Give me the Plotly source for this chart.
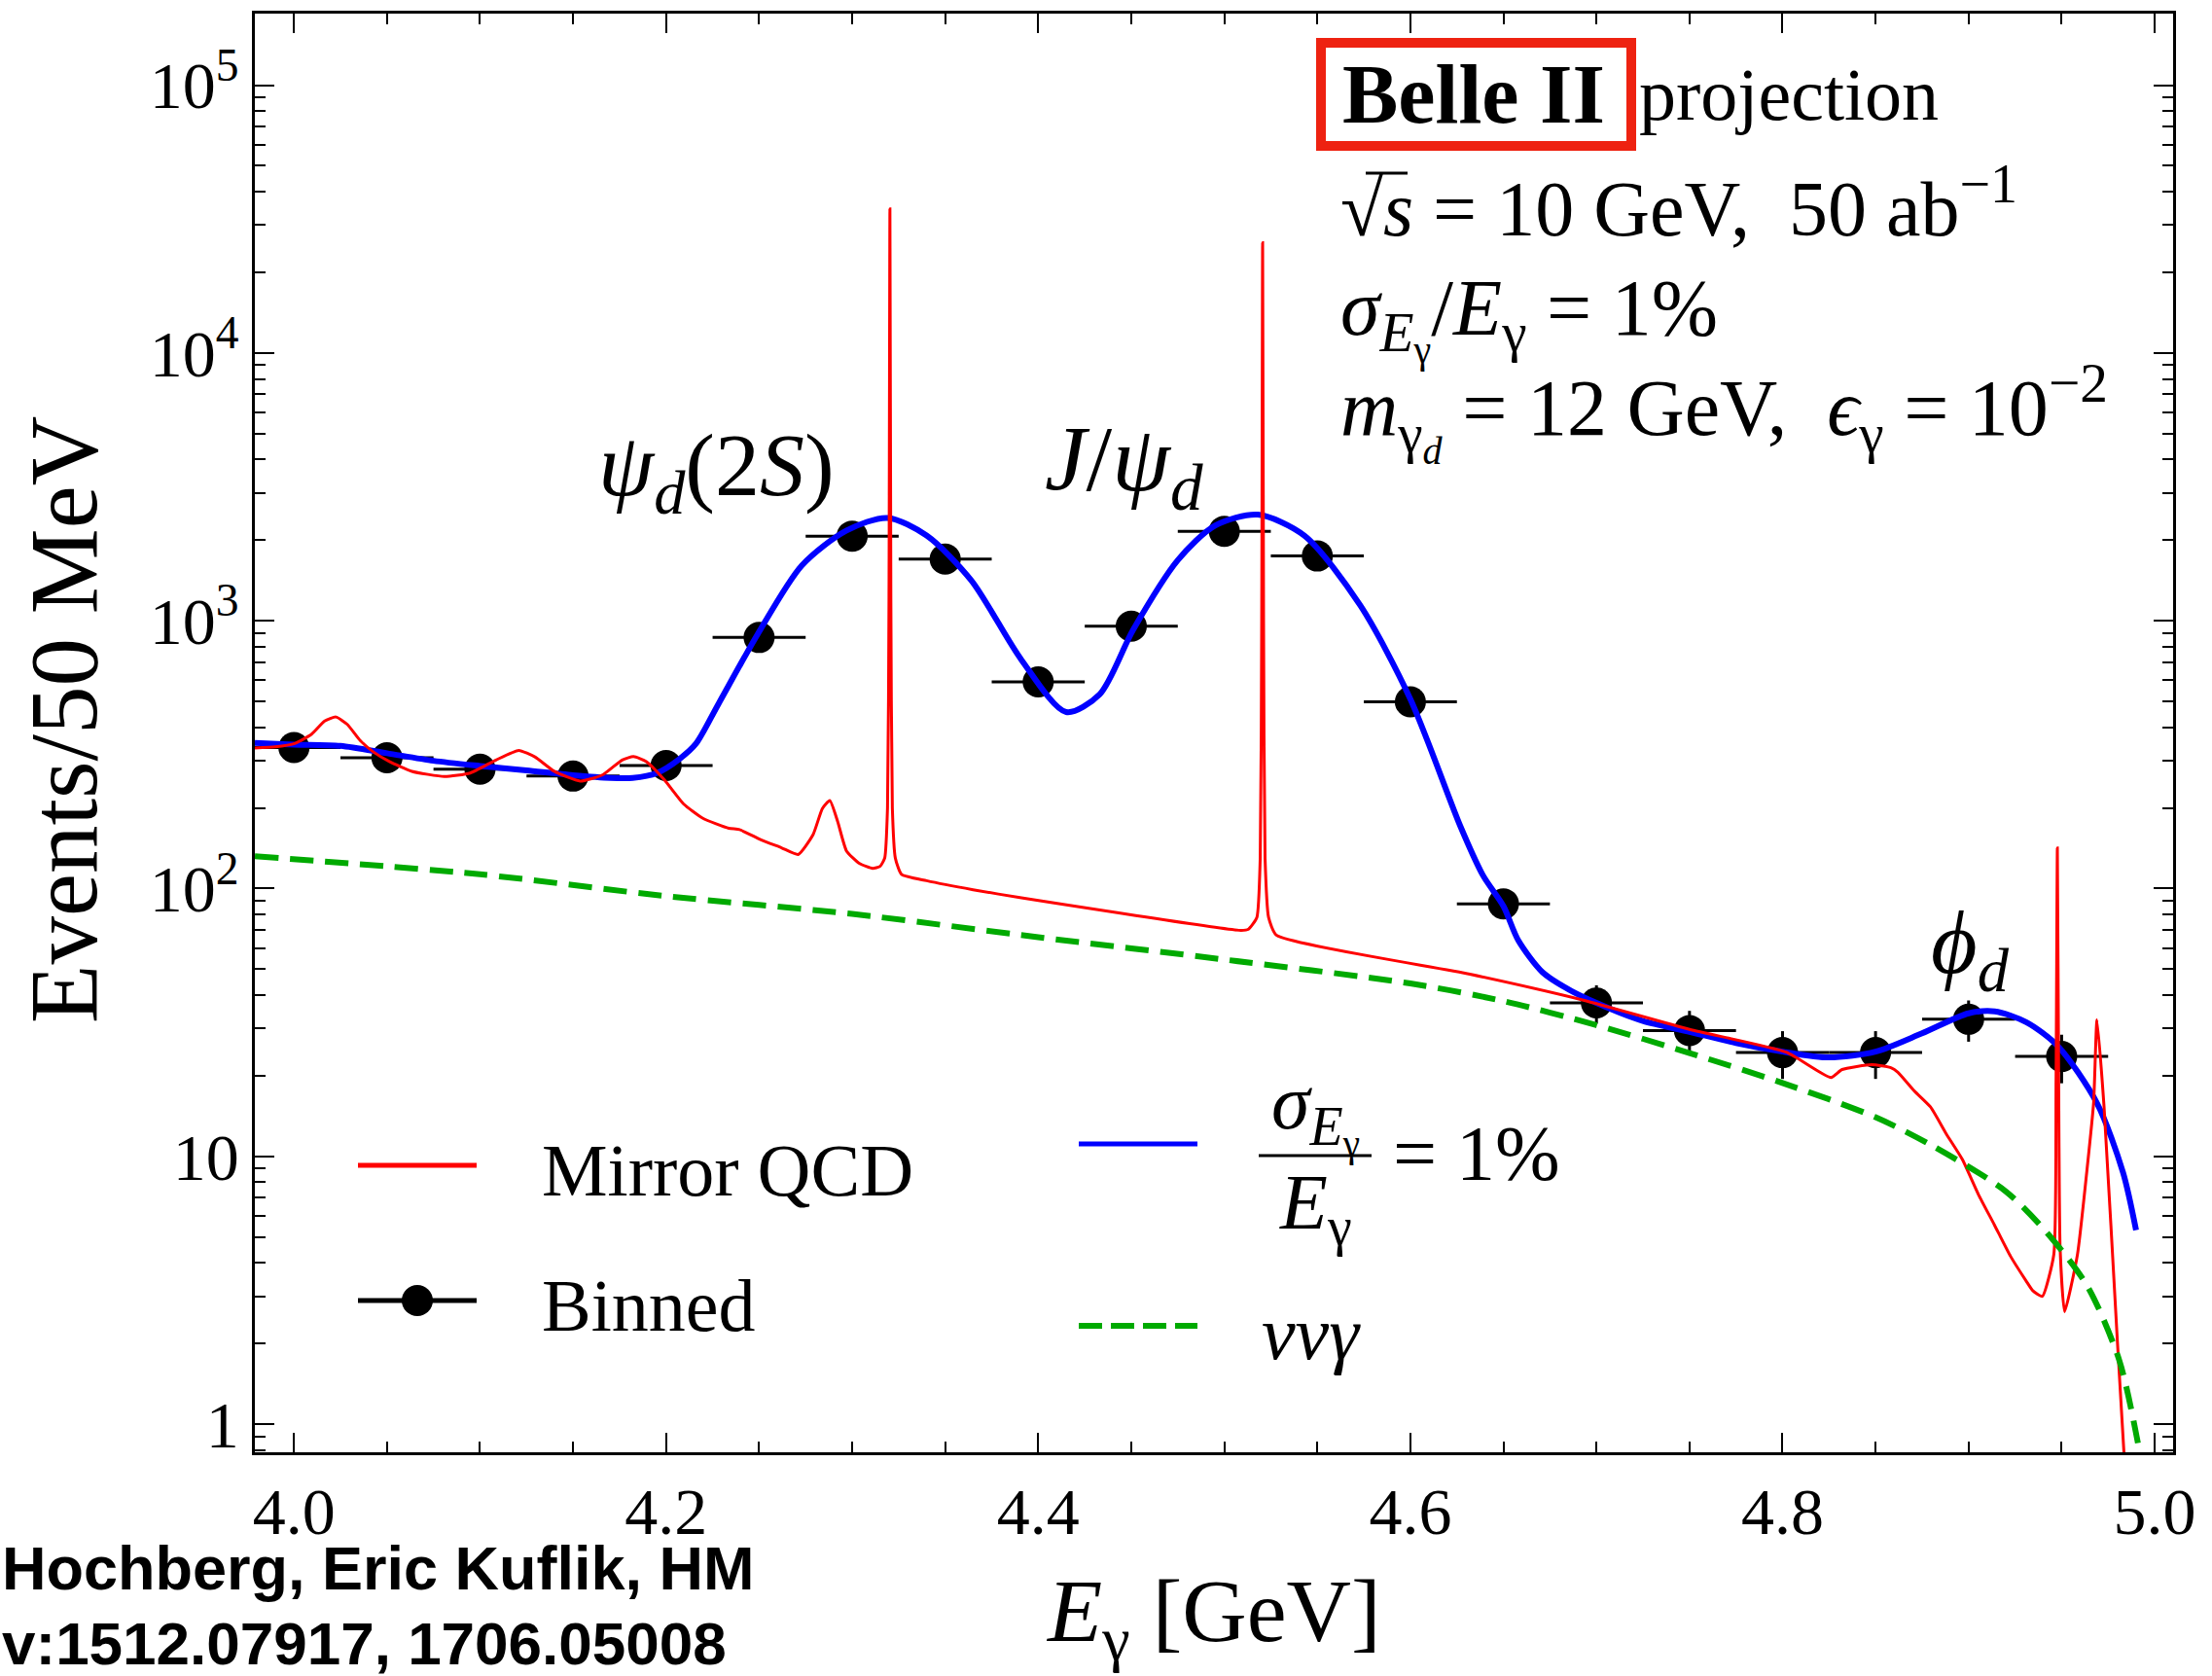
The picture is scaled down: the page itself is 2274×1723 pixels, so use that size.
import math
import plotly.graph_objects as go

# ---------------- data ----------------
bin_E = [4.00, 4.05, 4.10, 4.15, 4.20, 4.25, 4.30, 4.35, 4.40, 4.45,
         4.50, 4.55, 4.60, 4.65, 4.70, 4.75, 4.80, 4.85, 4.90, 4.95]
bin_N = [336, 308, 279, 263, 288, 866, 2070, 1700, 591, 954,
         2158, 1745, 498, 87.7, 37.4, 29.5, 24.4, 24.4, 32.5, 23.6]
bin_halfwidth = [0.025] * len(bin_E)

smeared_E = [3.979, 4.000, 4.025, 4.050, 4.075, 4.100, 4.125, 4.150, 4.170, 4.182,
             4.195, 4.207, 4.216, 4.228, 4.249, 4.273, 4.297, 4.319, 4.340, 4.364,
             4.391, 4.415, 4.433, 4.451, 4.475, 4.495, 4.518, 4.543, 4.573, 4.600,
             4.627, 4.639, 4.650, 4.658, 4.671, 4.685, 4.700, 4.725, 4.749, 4.775,
             4.800, 4.825, 4.850, 4.875, 4.900, 4.914, 4.931, 4.948, 4.969, 4.983,
             4.990]
smeared_val = [350, 345, 341, 320, 300, 287, 276, 265, 259, 259,
               270, 304, 347, 487, 885, 1610, 2173, 2420, 2080, 1415,
               714, 456, 531, 925, 1683, 2265, 2490, 2080, 1143, 510,
               170, 112, 86, 64, 48.7, 42, 37.4, 32, 29.3, 26.5,
               24.6, 23.4, 24.6, 28.8, 34.2, 34.8, 31.7, 25.8, 15.8, 8.7,
               5.3]

qcd_E = [3.979, 3.990, 4.000, 4.0095, 4.0165, 4.0226, 4.0287, 4.0356, 4.0426, 4.0513,
         4.0634, 4.0808, 4.0947, 4.1086, 4.1208, 4.1295, 4.1399, 4.1538, 4.1660, 4.1764,
         4.1825, 4.1894, 4.1990, 4.2094, 4.2198, 4.2337, 4.2395, 4.2510, 4.2620, 4.2710,
         4.2790, 4.2840, 4.2880, 4.2922, 4.2970, 4.3040, 4.3110, 4.3150, 4.3175, 4.3190,
         4.3198, 4.3203, 4.3208, 4.3216, 4.3232, 4.3265, 4.3400, 4.3650, 4.3910, 4.5090,
         4.5130, 4.5175, 4.5193, 4.5201, 4.5206, 4.5211, 4.5219, 4.5238, 4.5280, 4.6320,
         4.6930, 4.7500, 4.8020, 4.8260, 4.8320, 4.8480, 4.8585, 4.8620, 4.8710, 4.8795,
         4.8881, 4.8966, 4.9053, 4.9138, 4.9225, 4.9310, 4.9345, 4.9396, 4.9458, 4.9470,
         4.9477, 4.9484, 4.9492, 4.9516, 4.9585, 4.9637, 4.9672, 4.9690, 4.9728, 4.9800,
         4.9837]
qcd_val = [335, 338, 347, 377, 422, 437, 410, 357, 324, 298,
           274, 262, 270, 302, 328, 310, 274, 252, 266, 302,
           311, 298, 255, 207, 183, 168, 166, 152, 142, 134,
           159, 199, 213, 178, 138, 124, 119, 121, 130, 200,
           1200, 34500, 1200, 200, 130, 113, 107, 99, 92.3, 69.8,
           70.5, 78, 130, 1000, 25800, 1000, 130, 78, 67, 47.9,
           38.3, 29.8, 24.5, 19.7, 21.1, 22.0, 21.4, 20.6, 17.5, 15.3,
           12.1, 9.75, 7.2, 5.56, 4.24, 3.42, 3.15, 3.0, 4.3, 19.1,
           141.6, 19, 4.5, 2.63, 4.3, 9.0, 15.9, 32.3, 15.3, 2.02,
           0.74]

nng_E = [3.979, 4.100, 4.200, 4.300, 4.400, 4.500, 4.600, 4.650, 4.700, 4.750,
         4.800, 4.850, 4.880, 4.920, 4.943, 4.964, 4.981, 4.991]
nng_val = [132, 113, 93.7, 80.4, 65.8, 54.3, 44.2, 38.0, 30.9, 24.3,
           18.8, 14.0, 11.0, 7.4, 5.1, 3.26, 1.73, 0.85]

x_tick_vals = [4.0, 4.2, 4.4, 4.6, 4.8, 5.0]
x_tick_text = ["4.0", "4.2", "4.4", "4.6", "4.8", "5.0"]
y_tick_vals = [1, 10, 100, 1000, 10000, 100000]
y_tick_text = ["1", "10", "10<sup>2</sup>", "10<sup>3</sup>", "10<sup>4</sup>", "10<sup>5</sup>"]

# ---------------- geometry ----------------
W, H = 2274, 1723
L, R, T, B = 262, 2234, 14, 1493   # plot area in pixels


def fx(px):
    return (px - L) / (R - L)


def fy(py):
    return (B - py) / (B - T)


SERIF = "Liberation Serif"
RED = "#FF0000"
BLUE = "#0000FF"
GREEN = "#00AA00"

fig = go.Figure()

fig.add_trace(go.Scatter(
    x=bin_E, y=bin_N, mode="markers", name="Binned",
    marker=dict(color="black", size=32),
    error_x=dict(type="data", array=bin_halfwidth, color="black", thickness=3, width=0),
    error_y=dict(type="data", array=[math.sqrt(v) for v in bin_N], color="black", thickness=3, width=0),
    showlegend=False,
))
fig.add_trace(go.Scatter(
    x=smeared_E, y=smeared_val, mode="lines", name="σ/E = 1%",
    line=dict(color=BLUE, width=6, shape="spline", smoothing=0.8),
    showlegend=False,
))
fig.add_trace(go.Scatter(
    x=qcd_E, y=qcd_val, mode="lines", name="Mirror QCD",
    line=dict(color=RED, width=3, shape="spline", smoothing=0.5),
    showlegend=False,
))
fig.add_trace(go.Scatter(
    x=nng_E, y=nng_val, mode="lines", name="ννγ",
    line=dict(color=GREEN, width=6, dash="24px,12px", shape="spline", smoothing=0.8),
    showlegend=False,
))

minor_y = [m * 10 ** d for d in range(0, 6) for m in range(2, 10)] + [0.9, 0.8]

fig.update_xaxes(
    range=[3.979, 5.0099], showgrid=False, zeroline=False,
    showline=True, linecolor="black", linewidth=2.5, mirror="allticks",
    ticks="inside", ticklen=20, tickwidth=2, tickcolor="black",
    tickmode="array", tickvals=x_tick_vals, ticktext=x_tick_text,
    tickfont=dict(family=SERIF, size=68, color="black"),
    minor=dict(tickmode="linear", tick0=4.0, dtick=0.05, ticks="inside",
               ticklen=11, tickwidth=2, tickcolor="black", showgrid=False),
)
fig.update_yaxes(
    type="log", range=[-0.105, 5.267], showgrid=False, zeroline=False,
    showline=True, linecolor="black", linewidth=2.5, mirror="allticks",
    ticks="inside", ticklen=20, tickwidth=2, tickcolor="black",
    tickmode="array", tickvals=y_tick_vals, ticktext=y_tick_text,
    tickfont=dict(family=SERIF, size=68, color="black"),
    minor=dict(tickmode="array", tickvals=minor_y, ticks="inside",
               ticklen=11, tickwidth=2, tickcolor="black", showgrid=False),
)

ann = []
shapes = []


def text(px, py, s, size, xanchor="left", family=SERIF, angle=0, yanchor="middle"):
    ann.append(dict(x=fx(px), y=fy(py), xref="paper", yref="paper", text=s,
                    showarrow=False, xanchor=xanchor, yanchor=yanchor, textangle=angle,
                    font=dict(family=family, size=size, color="black")))


def hline(x0, x1, y, color, width, dash=None):
    ln = dict(color=color, width=width)
    if dash:
        ln["dash"] = dash
    shapes.append(dict(type="line", xref="paper", yref="paper",
                       x0=fx(x0), x1=fx(x1), y0=fy(y), y1=fy(y), line=ln))


# axis titles
text(65, 740, "Events/50 MeV", 99, xanchor="center", angle=-90)
text(1247, 1662, "<i>E</i><sub>γ</sub> [GeV]", 92, xanchor="center")

# info block
shapes.append(dict(type="rect", xref="paper", yref="paper",
                   x0=fx(1358), x1=fx(1677), y0=fy(44), y1=fy(150),
                   line=dict(color="#EE2211", width=10)))
text(1378, 97, "<b>Belle II</b>", 86)
text(1683, 97, "projection", 76)
text(1376, 209, "√<i>s</i> = 10 GeV,  50 ab<sup>−1</sup>", 80)
hline(1404, 1447, 178, "black", 3)   # radical bar over s
text(1376, 326, "<i>σ</i><sub><i>E</i><sub>γ</sub></sub>/<i>E</i><sub>γ</sub> = 1%", 82)
text(1376, 424, "<i>m</i><sub>γ<sub><i>d</i></sub></sub> = 12 GeV,  <i>ϵ</i><sub>γ</sub> = 10<sup>−2</sup>", 82)

# peak labels
text(613, 484, "<i>ψ</i><sub><i>d</i></sub>(2<i>S</i>)", 92)
text(1072, 478, "<i>J</i>/<i>ψ</i><sub><i>d</i></sub>", 96)
text(1983, 975, "<i>ϕ</i><sub><i>d</i></sub>", 92)

# legend (drawn by hand, two columns)
hline(368, 490, 1198, RED, 5)
text(555, 1203, "Mirror QCD", 76)
hline(368, 490, 1337, "black", 5)
shapes.append(dict(type="circle", xref="paper", yref="paper",
                   x0=fx(429 - 16), x1=fx(429 + 16), y0=fy(1337 + 16), y1=fy(1337 - 16),
                   fillcolor="black", line=dict(color="black", width=0)))
text(555, 1342, "Binned", 76)
hline(1109, 1231, 1176, BLUE, 5)
text(1352, 1143, "<i>σ</i><sub><i>E</i><sub>γ</sub></sub>", 80, xanchor="center")
hline(1294, 1410, 1188, "black", 3)
text(1352, 1242, "<i>E</i><sub>γ</sub>", 80, xanchor="center")
text(1430, 1186, "= 1%", 80)
hline(1109, 1231, 1363, GREEN, 6, dash="24px,9px")
text(1295, 1370, "<i>ννγ</i>", 78)

# credit text (cropped at the left edge in the reference)
text(0, 1612, "<b>Hochberg, Eric Kuflik, HM</b>", 63, family="Liberation Sans")
text(0, 1689, "<b>v:1512.07917, 1706.05008</b>", 62, family="Liberation Sans")

fig.update_layout(
    width=W, height=H,
    margin=dict(l=L, r=W - R, t=T, b=H - B, pad=0),
    paper_bgcolor="white", plot_bgcolor="white",
    showlegend=False,
    annotations=ann, shapes=shapes,
    font=dict(family=SERIF, color="black"),
)

fig.write_html("out.html", config={"displayModeBar": False},
               post_script="document.body.style.margin='0';")
